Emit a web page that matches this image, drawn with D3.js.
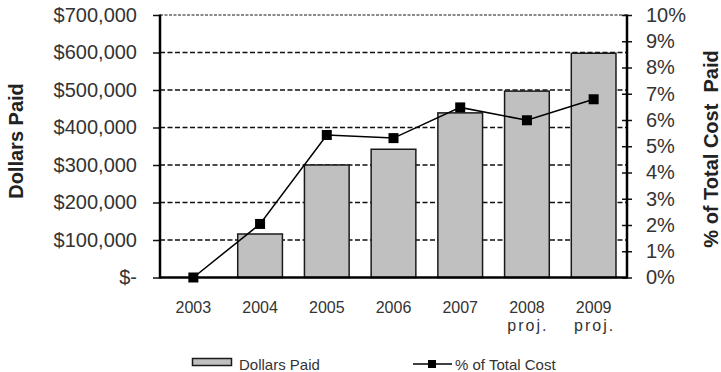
<!DOCTYPE html>
<html>
<head>
<meta charset="utf-8">
<script src="https://cdn.jsdelivr.net/npm/d3@7"></script>
<style>
  html, body { margin: 0; padding: 0; background: #fff; }
  svg { display: block; font-family: "Liberation Sans", Arial, sans-serif; }
</style>
</head>
<body>
<svg id="chart" width="721" height="372"></svg>
<script>
// Payments by year: bars for dollars paid, line for share of total cost
const years = ["2003", "2004", "2005", "2006", "2007", "2008", "2009"];
const yearNotes = ["", "", "", "", "", "proj.", "proj."];
const dollarsPaid = [0, 116000, 300000, 342000, 439000, 497000, 598000];
const pctOfCost = [0, 2.04, 5.43, 5.31, 6.48, 5.99, 6.79];
const dollarTicks = [0, 100000, 200000, 300000, 400000, 500000, 600000, 700000];
const pctTicks = [0, 1, 2, 3, 4, 5, 6, 7, 8, 9, 10];

const svg = d3.select("#chart");
const plotLeft = 160, plotRight = 627, plotTop = 15, plotBottom = 277.5;

const x = d3.scaleBand().domain(years).range([plotLeft, plotRight]).paddingInner(0.33).paddingOuter(0.165);
const yL = d3.scaleLinear().domain([0, 700000]).range([plotBottom, plotTop]);
const yR = d3.scaleLinear().domain([0, 10]).range([plotBottom, plotTop]);

const textColor = "#333";

// Dashed gridlines
svg.append("g").selectAll("line")
  .data(dollarTicks.filter(d => d > 0 && d < 700000))
  .join("line")
  .attr("x1", plotLeft).attr("x2", plotRight)
  .attr("y1", d => yL(d)).attr("y2", d => yL(d))
  .attr("stroke", "#111").attr("stroke-width", 1.4)
  .attr("stroke-dasharray", "5,2.5");

// Top boundary (lighter dotted)
svg.append("line")
  .attr("x1", plotLeft).attr("x2", plotRight)
  .attr("y1", yL(700000)).attr("y2", yL(700000))
  .attr("stroke", "#8a8a8a").attr("stroke-width", 1.8)
  .attr("stroke-dasharray", "3,1.5");

// Bars
svg.append("g").selectAll("rect")
  .data(years.map((y, i) => ({ y, v: dollarsPaid[i] })).filter(d => d.v > 0))
  .join("rect")
  .attr("x", d => x(d.y))
  .attr("width", x.bandwidth())
  .attr("y", d => yL(d.v))
  .attr("height", d => yL(0) - yL(d.v))
  .attr("fill", "#c0c0c0")
  .attr("stroke", "#1a1a1a")
  .attr("stroke-width", 1.5);

// Left axis
const axL = svg.append("g")
  .attr("transform", `translate(${plotLeft},0)`)
  .call(d3.axisLeft(yL).tickValues(dollarTicks).tickSize(7).tickPadding(16)
    .tickFormat(d => d === 0 ? "$-" : "$" + d3.format(",")(d)));
axL.select(".domain").remove();
axL.selectAll(".tick line").attr("stroke", "#111").attr("stroke-width", 1.5);
axL.selectAll(".tick text").attr("fill", textColor).style("font-size", "20px")
  .attr("font-family", null);
axL.attr("font-family", null).attr("font-size", null);

// Right axis
const axR = svg.append("g")
  .attr("transform", `translate(${plotRight},0)`)
  .call(d3.axisRight(yR).tickValues(pctTicks).tickSize(5).tickPadding(14)
    .tickFormat(d => d + "%"));
axR.select(".domain").remove();
axR.selectAll(".tick line").attr("x1", -5).attr("x2", 5)
  .attr("stroke", "#111").attr("stroke-width", 1.5);
axR.selectAll(".tick text").attr("fill", textColor).style("font-size", "20px");
axR.attr("font-family", null).attr("font-size", null);

// Bottom axis with two-line labels
const axB = svg.append("g")
  .attr("transform", `translate(0,${plotBottom})`)
  .call(d3.axisBottom(x).tickSize(0).tickPadding(0));
axB.select(".domain").remove();
axB.attr("font-family", null).attr("font-size", null);
axB.selectAll(".tick text").each(function(d) {
  const t = d3.select(this).text(null).attr("dy", null).attr("y", 0)
    .attr("fill", textColor).style("font-size", "16px");
  t.append("tspan").attr("x", 0).attr("y", 35.5).text(d);
  const note = yearNotes[years.indexOf(d)];
  if (note) {
    t.append("tspan").attr("x", 1).attr("y", 53.5)
      .style("letter-spacing", "2px").text(note);
  }
});

// Frame axis lines
svg.append("line").attr("x1", plotLeft).attr("x2", plotLeft).attr("y1", plotTop - 0.5).attr("y2", plotBottom + 1)
  .attr("stroke", "#000").attr("stroke-width", 2.5);
svg.append("line").attr("x1", plotRight).attr("x2", plotRight).attr("y1", plotTop - 0.5).attr("y2", plotBottom + 1)
  .attr("stroke", "#000").attr("stroke-width", 2.5);
svg.append("line").attr("x1", plotLeft).attr("x2", plotRight).attr("y1", plotBottom).attr("y2", plotBottom)
  .attr("stroke", "#000").attr("stroke-width", 2.5);

// Percentage line and markers
const pts = years.map((y, i) => ({ y, v: pctOfCost[i] }));
svg.append("path")
  .datum(pts)
  .attr("fill", "none")
  .attr("stroke", "#000")
  .attr("stroke-width", 1.5)
  .attr("d", d3.line().x(d => x(d.y) + x.bandwidth() / 2).y(d => yR(d.v)));
svg.append("g").selectAll("rect")
  .data(pts)
  .join("rect")
  .attr("x", d => x(d.y) + x.bandwidth() / 2 - 5)
  .attr("y", d => yR(d.v) - 5)
  .attr("width", 10).attr("height", 10)
  .attr("fill", "#000");

// Axis titles
svg.append("text")
  .attr("transform", "translate(23,141) rotate(-90)")
  .attr("text-anchor", "middle")
  .attr("fill", "#222")
  .style("font-size", "20px").style("font-weight", "bold")
  .text("Dollars Paid");
svg.append("text")
  .attr("transform", "translate(718,149) rotate(-90)")
  .attr("text-anchor", "middle")
  .attr("fill", "#222")
  .style("font-size", "20px").style("font-weight", "bold")
  .style("white-space", "pre")
  .text("% of Total Cost  Paid");

// Legend
const lg = svg.append("g");
lg.append("rect").attr("x", 192.5).attr("y", 358.5).attr("width", 39).attr("height", 7)
  .attr("fill", "#c0c0c0").attr("stroke", "#1a1a1a").attr("stroke-width", 1.5);
lg.append("text").attr("x", 239).attr("y", 369.5).attr("fill", textColor)
  .style("font-size", "15px").text("Dollars Paid");
lg.append("line").attr("x1", 413).attr("x2", 452).attr("y1", 364).attr("y2", 364)
  .attr("stroke", "#000").attr("stroke-width", 1.5);
lg.append("rect").attr("x", 428).attr("y", 360).attr("width", 8).attr("height", 8).attr("fill", "#000");
lg.append("text").attr("x", 455).attr("y", 369.5).attr("fill", textColor)
  .style("font-size", "15px").text("% of Total Cost");
</script>
</body>
</html>
